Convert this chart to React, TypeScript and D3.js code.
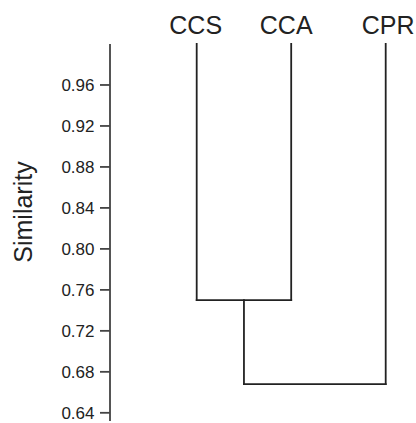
import React from "react";
import * as d3 from "d3";

const leaves = ["CCS", "CCA", "CPR"];
const merges = [
  { id: "m1", left: "CCS", right: "CCA", similarity: 0.75 },
  { id: "m2", left: "m1", right: "CPR", similarity: 0.668 },
];
const leafSimilarity = 1.0;
const yTicks = [0.64, 0.68, 0.72, 0.76, 0.8, 0.84, 0.88, 0.92, 0.96];
const yDomain = [0.632, 1.0];
const axisLabel = "Similarity";

const W = 416;
const H = 423;
const FONT = "'Liberation Sans', Arial, Helvetica, sans-serif";
const labelDx = [-1, -5, 2.5];

export default function App() {
  const x = d3.scalePoint<string>().domain(leaves).range([196.7, 385.7]);
  const y = d3.scaleLinear().domain(yDomain).range([421, 44]);

  const nodes: Record<string, { x: number; s: number }> = {};
  leaves.forEach((l) => (nodes[l] = { x: x(l) as number, s: leafSimilarity }));
  const segs: { x1: number; y1: number; x2: number; y2: number }[] = [];
  merges.forEach((m) => {
    const a = nodes[m.left];
    const b = nodes[m.right];
    const ys = y(m.similarity);
    segs.push({ x1: a.x, y1: y(a.s), x2: a.x, y2: ys });
    segs.push({ x1: b.x, y1: y(b.s), x2: b.x, y2: ys });
    segs.push({ x1: a.x, y1: ys, x2: b.x, y2: ys });
    nodes[m.id] = { x: (a.x + b.x) / 2, s: m.similarity };
  });

  const axisX = 110;
  const fmt = d3.format(".2f");

  return (
    <svg
      width={W}
      height={H}
      style={{ position: "absolute", left: 0, top: 0, background: "#fff" }}
      fontFamily={FONT}
    >
      <line
        x1={axisX}
        x2={axisX}
        y1={y(yDomain[0])}
        y2={y(yDomain[1])}
        stroke="#555"
        strokeWidth={2}
      />
      {yTicks.map((t) => (
        <g key={t}>
          <line x1={axisX - 10} x2={axisX} y1={y(t)} y2={y(t)} stroke="#444" strokeWidth={1.8} />
          <text
            x={axisX - 15.5}
            y={y(t)}
            dy="0.36em"
            textAnchor="end"
            fontSize={17}
            fill="#222"
          >
            {fmt(t)}
          </text>
        </g>
      ))}
      <text
        transform={`translate(32,${212}) rotate(-90)`}
        textAnchor="middle"
        fontSize={25}
        fill="#222"
      >
        {axisLabel}
      </text>
      {segs.map((s, i) => (
        <line
          key={i}
          x1={s.x1}
          y1={s.y1}
          x2={s.x2}
          y2={s.y2}
          stroke="#222"
          strokeWidth={1.8}
          strokeLinecap="square"
        />
      ))}
      {leaves.map((l, i) => (
        <text
          key={l}
          x={(x(l) as number) + labelDx[i]}
          y={34}
          textAnchor="middle"
          fontSize={25}
          fill="#222"
        >
          {l}
        </text>
      ))}
    </svg>
  );
}
